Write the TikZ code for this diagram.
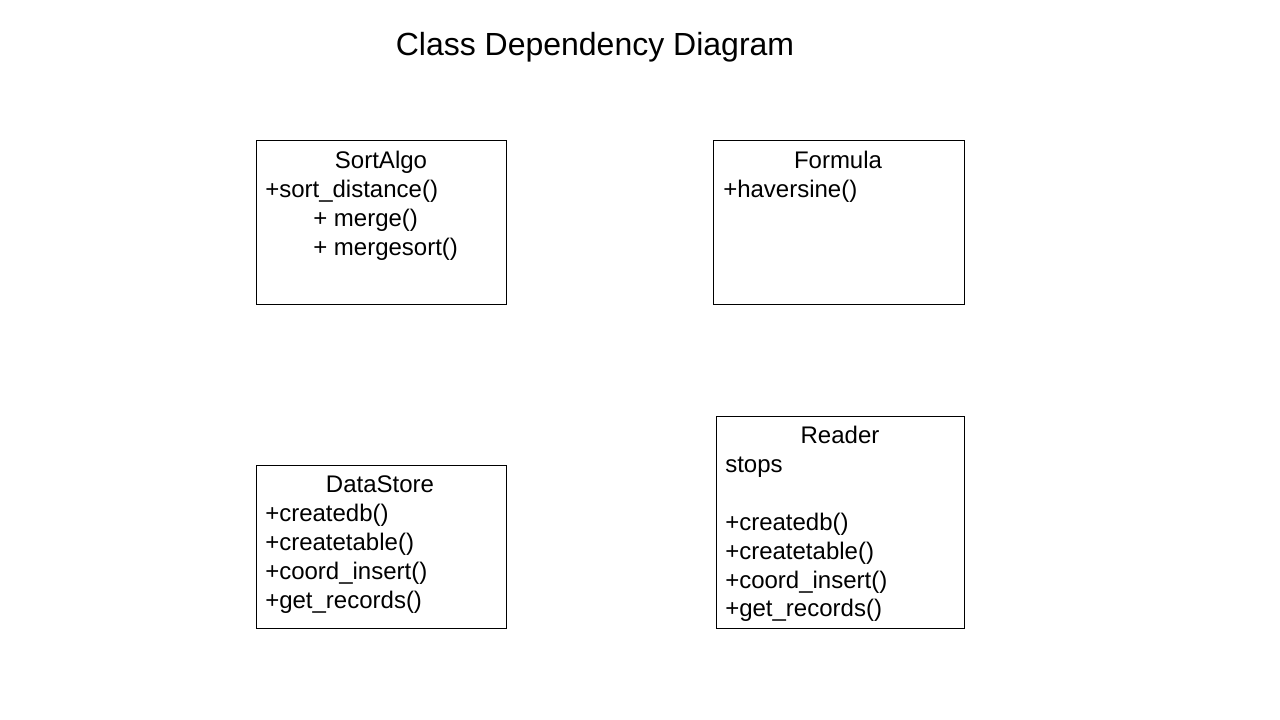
\documentclass[tikz,border=0pt]{standalone}
\usepackage{fontspec}
\setmainfont{Liberation Sans}
\begin{document}
\begin{tikzpicture}[x=0.75pt,y=-0.75pt,
  box/.style={draw=black,line width=0.75pt,rectangle,inner sep=0pt},
  txt/.style={font=\fontsize{18pt}{21.6pt}\selectfont,inner sep=0pt,text height=0.72em,text depth=0.2em,yshift=-5*0.75pt},
  ttl/.style={font=\fontsize{24pt}{28pt}\selectfont,inner sep=0pt,text height=0.72em,text depth=0.2em,yshift=-8*0.75pt}]
\useasboundingbox[fill=white] (0,0) rectangle (1280,720);
\node[ttl] (title) at (595,44) {Class Dependency Diagram};
% boxes
\node[box,minimum width=250*0.75pt,minimum height=163*0.75pt] (sortalgo) at (381,222.5) {};
\node[box,minimum width=251*0.75pt,minimum height=163*0.75pt] (formula) at (838.5,222.5) {};
\node[box,minimum width=250*0.75pt,minimum height=163*0.75pt] (datastore) at (381,546.5) {};
\node[box,minimum width=248*0.75pt,minimum height=212*0.75pt] (reader) at (840,522) {};
% SortAlgo
\node[txt] (sa0) at (381,160) {SortAlgo};
\node[txt,anchor=west] (sa1) at (265,189) {+sort\_distance()};
\node[txt,anchor=west] (sa2) at (313,218) {+ merge()};
\node[txt,anchor=west] (sa3) at (313,247) {+ mergesort()};
% Formula
\node[txt] (fo0) at (838,160) {Formula};
\node[txt,anchor=west] (fo1) at (723,189) {+haversine()};
% DataStore
\node[txt] (ds0) at (380,484) {DataStore};
\node[txt,anchor=west] (ds1) at (265,513) {+createdb()};
\node[txt,anchor=west] (ds2) at (265,542) {+createtable()};
\node[txt,anchor=west] (ds3) at (265,571) {+coord\_insert()};
\node[txt,anchor=west] (ds4) at (265,600) {+get\_records()};
% Reader
\node[txt] (rd0) at (840,435) {Reader};
\node[txt,anchor=west] (rd1) at (725,464) {stops};
\node[txt,anchor=west] (rd2) at (725,522) {+createdb()};
\node[txt,anchor=west] (rd3) at (725,551) {+createtable()};
\node[txt,anchor=west] (rd4) at (725,580) {+coord\_insert()};
\node[txt,anchor=west] (rd5) at (725,608) {+get\_records()};
\end{tikzpicture}
\end{document}
